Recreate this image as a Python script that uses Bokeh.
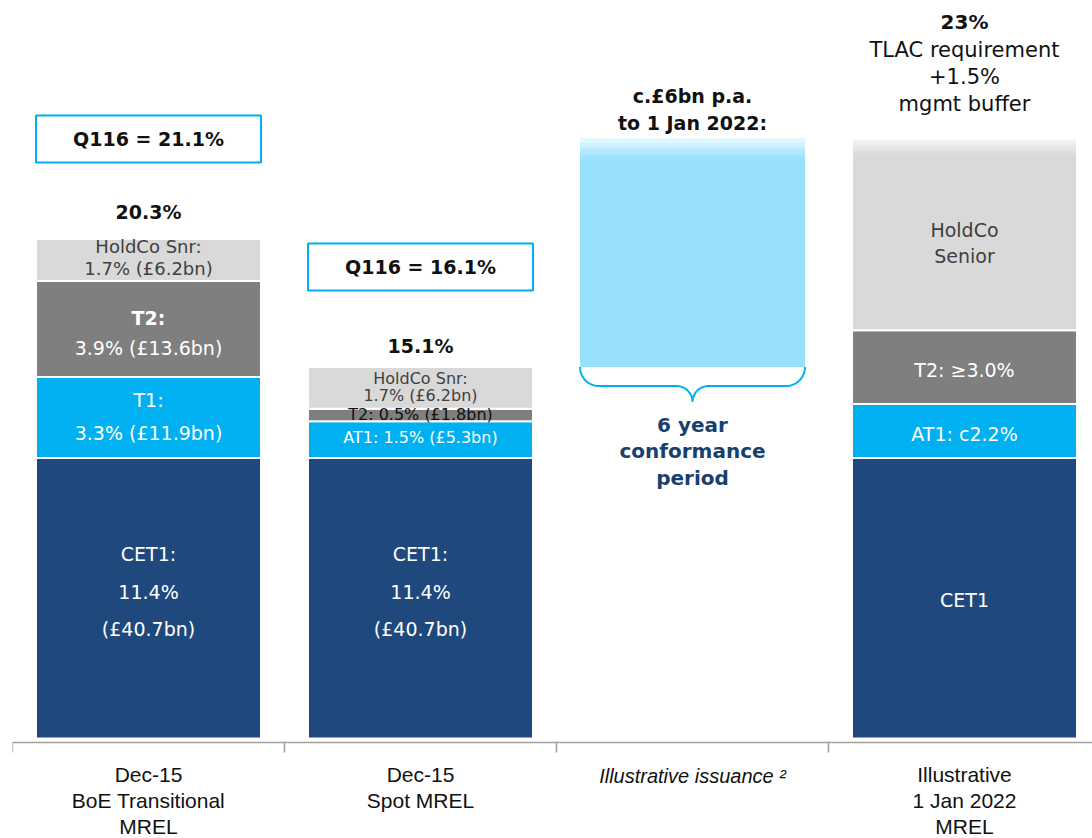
import numpy as np
from bokeh.plotting import figure
from bokeh.models import Range1d, LinearAxis, FixedTicker
from bokeh.core.properties import value
from bokeh.embed import file_html
from bokeh.resources import INLINE

# ---------------- data ----------------
categories = ["Dec-15\nBoE Transitional\nMREL", "Dec-15\nSpot MREL",
              "Illustrative issuance \u00b2", "Illustrative\n1 Jan 2022\nMREL"]
stack_idx = [0, 1, 3]                     # categories that carry a capital stack
cet1 = [11.4, 11.4, 11.4]
tier1 = [3.3, 1.5, 2.2]
tier2 = [3.9, 0.5, 3.0]
holdco = [1.7, 1.7, 7.8]
total_labels = ["20.3%", "15.1%"]
q116_labels = ["Q116 = 21.1%", "Q116 = 16.1%"]
issuance_from = 15.1
issuance_to = 24.4

cet1_text = [["CET1:", "11.4%", "(\u00a340.7bn)"], ["CET1:", "11.4%", "(\u00a340.7bn)"], ["CET1"]]
tier1_text = [["T1:", "3.3% (\u00a311.9bn)"], ["AT1: 1.5% (\u00a35.3bn)"], ["AT1: c2.2%"]]
tier2_text = [["T2:", "3.9% (\u00a313.6bn)"], ["T2: 0.5% (\u00a31.8bn)"], ["T2: \u22653.0%"]]
holdco_text = [["HoldCo Snr:", "1.7% (\u00a36.2bn)"], ["HoldCo Snr:", "1.7% (\u00a36.2bn)"], ["HoldCo", "Senior"]]
issuance_head = ["c.\u00a36bn p.a.", "to 1 Jan 2022:"]
issuance_note = ["6 year", "conformance", "period"]
target_head = ["23%", "TLAC requirement", "+1.5%", "mgmt buffer"]

# ---------------- layout / style ----------------
W, H = 1092, 838
BORDER_L = 12
FRAME_W, FRAME_H = W - BORDER_L, H
XS = 272.0                               # px per category
X1 = FRAME_W / XS
PY = 24.6                                # px per percentage point
ZERO_PX = 738.0                          # canvas row of the 0% level
Y1 = ZERO_PX / PY
Y0 = Y1 - FRAME_H / PY
AXIS_Y = -4.0 / PY                       # axis line just under the bars
BW = 225 / XS

NAVY, CYAN, GREY, LGREY, LBLUE = "#1F487C", "#00B0F0", "#7F7F7F", "#D9D9D9", "#97E1FD"
BODY = "DejaVu Sans"
AXF = "Liberation Sans"

p = figure(width=W, height=H, output_backend="svg", toolbar_location=None,
           x_range=Range1d(0, X1), y_range=Range1d(Y0, Y1),
           x_axis_type=None, y_axis_type=None,
           min_border_left=BORDER_L, min_border_right=0, min_border_top=0,
           min_border_bottom=0)
p.outline_line_color = None
p.grid.visible = False
p.background_fill_color = "white"

xs = np.array([i + 0.5 for i in stack_idx])
c1 = np.array(cet1); t1 = np.array(tier1); t2 = np.array(tier2); hc = np.array(holdco)
b1 = c1; b2 = b1 + t1; b3 = b2 + t2; tot = b3 + hc

for bot, top, col in [(np.zeros(3), b1, NAVY), (b1, b2, CYAN), (b2, b3, GREY), (b3, tot, LGREY)]:
    p.vbar(x=xs, bottom=bot, top=top, width=BW, fill_color=col,
           line_color="white", line_width=2)

# issuance bar
p.vbar(x=[2.5], bottom=[issuance_from], top=[issuance_to], width=BW,
       fill_color=LBLUE, line_color=None)

# white fade at the top of the open-ended bars
for x, top, fade in [(2.5, issuance_to, 0.85), (3.5, tot[2], 0.75)]:
    n = 16
    edges = np.linspace(top - fade, top, n + 1)
    alphas = np.linspace(0.0, 1.0, n + 2)[1:-1] ** 1.3
    p.quad(left=x - BW / 2 - 0.004, right=x + BW / 2 + 0.004,
           bottom=edges[:-1], top=edges[1:] + 0.002,
           fill_color="white", fill_alpha=alphas, line_color=None)

# curly brace under the issuance bar
Wpx = BW * XS
R1, R2 = 19.0, 16.0
th = np.linspace(0, np.pi / 2, 24)
px_l = np.concatenate([R1 - R1 * np.cos(th), Wpx / 2 - R2 + R2 * np.sin(th)])
py_l = np.concatenate([R1 * np.sin(th), R1 + R2 - R2 * np.cos(th)])
px = np.concatenate([px_l, (Wpx - px_l)[::-1]])
py = np.concatenate([py_l, py_l[::-1]])
bl = 2.5 - BW / 2
p.line(x=bl + px / XS, y=issuance_from - py / PY, line_color=CYAN, line_width=2)


def put_lines(x, y, lines, size, color, spacing=0, shift=0, bold=(), font=BODY, style="normal"):
    n = len(lines)
    for i, line in enumerate(lines):
        off = shift + (i - (n - 1) / 2) * spacing
        p.text(x=[x], y=[y], text=[line], text_align="center", text_baseline="middle",
               y_offset=off, text_font_size=f"{size}px", text_color=color,
               text_font=value(font), text_font_style="bold" if i in bold else style)


# segment labels
mid_c = c1 / 2; mid_1 = b1 + t1 / 2; mid_2 = b2 + t2 / 2; mid_h = b3 + hc / 2
cet_style = [(19, 37.5, -6.5), (19, 37.5, -6.5), (19, 0, 2)]
t1_style = [(19, 33, -0.5), (16, 0, -2), (19, 0, 2.5)]
t2_style = [(19, 30, 3.6), (16, 0, -0.5), (19, 0, 2.5)]
t2_color = ["white", "#111111", "white"]
hc_style = [(18, 22, -2.5), (16, 17, -1), (19, 26, 8.3)]
for k in range(3):
    s, sp, sh = cet_style[k]
    put_lines(xs[k], mid_c[k], cet1_text[k], s, "white", sp, sh)
    s, sp, sh = t1_style[k]
    put_lines(xs[k], mid_1[k], tier1_text[k], s, "white", sp, sh)
    s, sp, sh = t2_style[k]
    put_lines(xs[k], mid_2[k], tier2_text[k], s, t2_color[k], sp, sh,
              bold=(0,) if k == 0 else ())
    s, sp, sh = hc_style[k]
    put_lines(xs[k], mid_h[k], holdco_text[k], s, "#404040", sp, sh)

# totals and Q116 boxes (first two stacks)
total_off = [-27, -21]
for k in range(2):
    put_lines(xs[k], tot[k], [total_labels[k]], 19, "#111111", 0, total_off[k], bold=(0,))
box_y = tot[:2] + 100 / PY
p.rect(x=xs[:2], y=box_y, width=BW, height=47, height_units="screen",
       fill_color="white", line_color=CYAN, line_width=2)
for k in range(2):
    put_lines(xs[k], box_y[k], [q116_labels[k]], 19, "#111111", bold=(0,))

# issuance annotations
put_lines(2.5, issuance_to, issuance_head, 19, "#111111", 27, -28.3, bold=(0, 1))
put_lines(2.5, issuance_from, issuance_note, 20, "#17406D", 26.5, 84, bold=(0, 1, 2))

# target annotation
put_lines(xs[2], tot[2], target_head[:1], 20, "#111111", 0, -115.8, bold=(0,))
put_lines(xs[2], tot[2], target_head[1:], 21, "#111111", 27, -60.8)

# category axis (drawn at a fixed level just under the bars)
ticks = [i + 0.5 for i in range(len(categories))]
overrides = {t: c for t, c in zip(ticks, categories)}
overrides[ticks[2]] = ""                 # italic label drawn separately below
ax = LinearAxis(ticker=FixedTicker(ticks=ticks,
                                   minor_ticks=[float(i) for i in range(len(categories) + 1)]),
                major_label_overrides=overrides, fixed_location=AXIS_Y)
ax.axis_line_color = "#A0A0A0"
ax.axis_line_width = 1.5
ax.major_tick_out = 0
ax.major_tick_in = 0
ax.minor_tick_out = 10
ax.minor_tick_in = 0
ax.minor_tick_line_color = "#A0A0A0"
ax.minor_tick_line_width = 1.5
ax.major_label_standoff = 10
ax.major_label_text_font = AXF
ax.major_label_text_font_size = "21px"
ax.major_label_text_line_height = 1.15
ax.major_label_text_color = "#111111"
ax.major_label_orientation = "horizontal"
p.add_layout(ax, "below")

put_lines(ticks[2], AXIS_Y, [categories[2]], 20, "#111111", 0, 33, font=AXF, style="italic")

open("out.html", "w").write(file_html(p, INLINE))
